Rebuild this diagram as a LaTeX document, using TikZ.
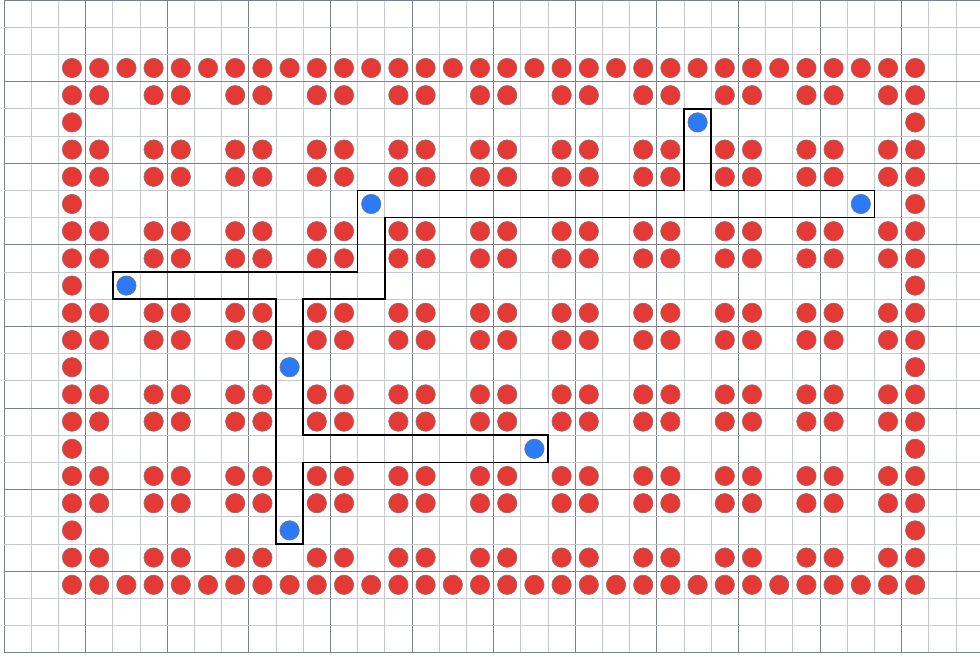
\documentclass[tikz,border=0pt]{standalone}
\begin{document}
\begin{tikzpicture}[x={(27.2pt,0pt)},y={(0pt,-27.2pt)},
  minorline/.style={draw={rgb,255:red,198;green,202;blue,207},line width=0.9pt},
  majorline/.style={draw={rgb,255:red,125;green,130;blue,137},line width=0.9pt},
  reddot/.style={circle,inner sep=0pt,minimum size=19.4pt,fill={rgb,255:red,229;green,57;blue,53},draw={rgb,255:red,150;green,110;blue,110},line width=0.6pt},
  bluedot/.style={circle,inner sep=0pt,minimum size=19.4pt,fill={rgb,255:red,44;green,122;blue,246},draw={rgb,255:red,110;green,120;blue,140},line width=0.6pt},
  route/.style={draw=black,line width=1.5pt,line join=miter}]
\useasboundingbox[fill=white] (-0.147,0) rectangle (35.882,24.154);
% grid
\foreach \k in {0,...,35}{
  \pgfmathtruncatemacro\m{mod(\k,3)}
  \ifnum\m=0 \draw[majorline] (\k,0) -- (\k,24);\else \draw[minorline] (\k,0) -- (\k,24);\fi
}
\foreach \k in {0,...,24}{
  \pgfmathtruncatemacro\m{mod(\k,3)}
  \ifnum\m=0 \draw[majorline] (0,\k) -- (35.882,\k);\else \draw[minorline] (0,\k) -- (35.882,\k);\fi
}
% red dots
\foreach \j in {0,...,19}{
  \foreach \i in {0,...,31}{
    \pgfmathtruncatemacro\show{((\j==0)||(\j==19)||(\i==0)||(\i==31)||((mod(\i,3)!=2)&&(mod(\j,3)!=2))) ? 1 : 0}
    \ifnum\show=1 \node[reddot] (r-\i-\j) at (\i+2.5,\j+2.5) {};\fi
  }
}
% route outline
\draw[route] (25,4) -- (26,4) -- (26,7) -- (32,7) -- (32,8) -- (14,8) -- (14,11) -- (11,11) -- (11,16) -- (20,16) -- (20,17) -- (11,17) -- (11,20) -- (10,20) -- (10,11) -- (4,11) -- (4,10) -- (13,10) -- (13,7) -- (25,7) -- cycle;
% blue dots
\node[bluedot] (b1) at (25.5,4.5) {};
\node[bluedot] (b2) at (13.5,7.5) {};
\node[bluedot] (b3) at (31.5,7.5) {};
\node[bluedot] (b4) at (4.5,10.5) {};
\node[bluedot] (b5) at (10.5,13.5) {};
\node[bluedot] (b6) at (19.5,16.5) {};
\node[bluedot] (b7) at (10.5,19.5) {};
\end{tikzpicture}
\end{document}
